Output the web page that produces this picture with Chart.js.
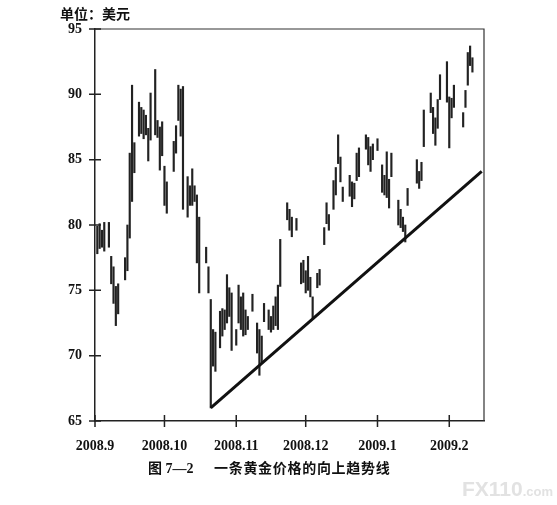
<!DOCTYPE html>
<html>
<head>
<meta charset="utf-8">
<script src="https://cdn.jsdelivr.net/npm/chart.js@4"></script>
<style>
    body { margin: 0; background: #fff; }
    #wrap { position: relative; width: 557px; height: 505px; overflow: hidden; }
    canvas { position: absolute; left: 0; top: 0; }
    .txt { position: absolute; color: #111; white-space: nowrap; }
    #unit { left: 60px; top: 3px; font: 700 14px "Noto Sans CJK SC", sans-serif; }
    #fig { left: 148px; top: 457px; font: 700 14px "Liberation Serif", "Noto Sans CJK SC", serif; }
    #cap { left: 214px; top: 457px; font: 700 14px "Noto Sans CJK SC", sans-serif; letter-spacing: 0.7px; }
    #mark { left: 462px; top: 477px; color: #e2e2e2; font: 700 21px "Liberation Sans", sans-serif; }
    #mark span { font-size: 13px; }
</style>
</head>
<body>
<div id="wrap">
    <canvas id="goldChart" width="557" height="505"></canvas>
    <div class="txt" id="unit">单位：美元</div>
    <div class="txt" id="fig">图 7—2</div>
    <div class="txt" id="cap">一条黄金价格的向上趋势线</div>
    <div class="txt" id="mark">FX110<span>.com</span></div>
</div>
<script>
// days since 2008-09-01, daily low / high (USD)
const days = [
    1, 2, 3, 4, 6, 7, 8, 9, 10, 13,
    14, 15, 16, 17, 19, 20, 21, 22, 23, 24,
    26, 27, 28, 29, 30, 31, 34, 35, 36, 37,
    38, 40, 41, 42, 43, 44, 45, 48, 49, 50,
    51, 52, 54, 55, 56, 57, 58, 59, 61, 62,
    63, 64, 65, 66, 68, 70, 71, 72, 73, 75,
    76, 77, 78, 79, 80, 83, 84, 85, 87, 89,
    90, 91, 92, 93, 94, 96, 97, 99, 100, 101,
    103, 104, 105, 106, 107, 110, 111, 112, 113, 114,
    117, 118, 119, 120, 122, 124, 125, 126, 127, 128,
    131, 132, 133, 134, 135, 139, 140, 141, 142, 145,
    146, 147, 148, 149, 152, 153, 154, 155, 159, 160,
    161, 162, 163
];
const lows = [
    77.8, 78.2, 78.3, 78.0, 78.3, 75.5, 74.0, 72.3, 73.2, 75.8,
    76.5, 79.0, 81.8, 84.0, 86.8, 87.0, 86.6, 86.9, 84.9, 86.5,
    86.9, 86.7, 84.2, 85.3, 81.5, 80.9, 84.1, 85.5, 88.0, 86.8,
    81.2, 80.6, 81.5, 81.5, 81.8, 77.1, 74.8, 77.1, 74.8, 66.0,
    69.2, 68.8, 70.6, 71.5, 72.0, 72.5, 73.0, 70.4, 70.8, 72.5,
    72.0, 71.5, 71.6, 72.0, 73.4, 70.2, 68.5, 69.5, 72.6, 72.0,
    71.8, 72.0, 72.3, 72.0, 75.3, 80.4, 79.6, 79.1, 79.6, 75.5,
    75.6, 74.8, 75.0, 74.5, 72.9, 75.2, 75.4, 78.5, 80.1, 79.6,
    81.2, 82.3, 84.7, 83.3, 81.8, 82.2, 81.4, 82.0, 83.4, 83.7,
    85.8, 84.6, 84.1, 85.0, 85.7, 82.5, 82.3, 82.1, 81.3, 83.7,
    80.0, 79.8, 79.5, 78.7, 81.5, 83.2, 82.8, 83.4, 86.0, 88.6,
    87.0, 86.1, 87.4, 89.6, 89.4, 85.9, 88.2, 89.0, 87.5, 89.0,
    90.7, 92.2, 91.7
];
const highs = [
    79.9, 80.1, 79.6, 80.2, 80.2, 77.6, 76.8, 75.3, 75.5, 77.5,
    80.0, 85.5, 90.7, 86.3, 89.4, 89.0, 88.8, 88.4, 87.4, 90.1,
    91.9, 88.0, 87.5, 87.9, 84.5, 83.3, 86.4, 87.6, 90.7, 90.4,
    90.6, 83.7, 83.0, 84.3, 83.0, 82.3, 80.6, 78.3, 76.8, 74.3,
    72.0, 71.8, 73.4, 73.6, 73.5, 76.2, 75.2, 74.8, 72.0, 75.4,
    74.5, 74.8, 73.5, 73.0, 74.7, 72.5, 72.0, 71.5, 74.0, 73.5,
    73.0, 73.8, 74.5, 75.4, 78.9, 81.7, 81.2, 80.6, 80.5, 77.1,
    77.3, 76.5, 77.6, 76.0, 74.5, 76.3, 76.6, 79.8, 81.7, 80.8,
    83.4, 84.4, 86.9, 85.2, 82.9, 83.8, 83.3, 83.2, 85.5, 85.9,
    86.9, 86.7, 86.0, 86.2, 86.6, 84.6, 83.8, 85.6, 83.5, 85.5,
    81.9, 81.2, 80.6, 80.0, 82.8, 85.0, 84.1, 84.8, 88.8, 90.1,
    89.0, 88.2, 89.6, 91.5, 92.5, 89.8, 89.7, 90.7, 88.6, 90.3,
    93.2, 93.7, 92.8
];

// trend line end points (day, price)
const trendDays = [50, 167];
const trendPrices = [66.0, 84.1];

// month ticks
const monthStarts = [0, 30, 61, 91, 122, 153];
const monthLabels = ['2008.9', '2008.10', '2008.11', '2008.12', '2009.1', '2009.2'];

const tickFont = { family: 'Liberation Serif', size: 14, weight: 'bold' };

// frame on top/right plus ticks crossing the axes
const frameAndTicks = {
    id: 'frameAndTicks',
    afterDraw(chart) {
        const { ctx, chartArea: a, scales: { x, y } } = chart;
        ctx.save();
        ctx.strokeStyle = '#333';
        ctx.lineWidth = 1.2;
        ctx.beginPath();
        ctx.moveTo(a.left, a.top);
        ctx.lineTo(a.right, a.top);
        ctx.lineTo(a.right, a.bottom);
        ctx.stroke();
        ctx.strokeStyle = '#222';
        ctx.lineWidth = 1.5;
        ctx.beginPath();
        y.ticks.forEach(t => {
            const py = y.getPixelForValue(t.value);
            ctx.moveTo(a.left - 6, py);
            ctx.lineTo(a.left + 6, py);
        });
        x.ticks.forEach(t => {
            const px = x.getPixelForValue(t.value);
            ctx.moveTo(px, a.bottom - 6);
            ctx.lineTo(px, a.bottom + 6);
        });
        ctx.stroke();
        ctx.restore();
    }
};

const ctx = document.getElementById('goldChart').getContext('2d');
new Chart(ctx, {
    type: 'bar',
    data: {
        datasets: [
            {
                label: 'range',
                data: days.map((d, i) => ({ x: d, y: [lows[i], highs[i]] })),
                backgroundColor: '#222',
                borderWidth: 0,
                barThickness: 1.5,
                order: 2
            },
            {
                type: 'line',
                label: 'trend',
                data: trendDays.map((d, i) => ({ x: d, y: trendPrices[i] })),
                borderColor: '#111',
                borderWidth: 3,
                pointRadius: 0,
                fill: false,
                order: 1
            }
        ]
    },
    options: {
        responsive: false,
        animation: false,
        layout: { padding: { top: 29, right: 73, left: 0, bottom: 0 } },
        plugins: {
            legend: { display: false },
            tooltip: { enabled: false }
        },
        scales: {
            x: {
                type: 'linear',
                min: 0,
                max: 168,
                offset: false,
                grid: { display: false },
                border: { display: true, color: '#222', width: 1.5 },
                afterBuildTicks: scale => {
                    scale.ticks = monthStarts.map(v => ({ value: v }));
                },
                afterFit: scale => { scale.height = 84; },
                ticks: {
                    color: '#111',
                    font: tickFont,
                    padding: 9,
                    maxRotation: 0,
                    autoSkip: false,
                    callback: v => monthLabels[monthStarts.indexOf(v)]
                }
            },
            y: {
                min: 65,
                max: 95,
                grid: { display: false },
                border: { display: true, color: '#222', width: 1.5 },
                afterFit: scale => { scale.width = 95; },
                ticks: {
                    stepSize: 5,
                    color: '#111',
                    font: tickFont,
                    padding: 5
                }
            }
        }
    },
    plugins: [frameAndTicks]
});
</script>
</body>
</html>
